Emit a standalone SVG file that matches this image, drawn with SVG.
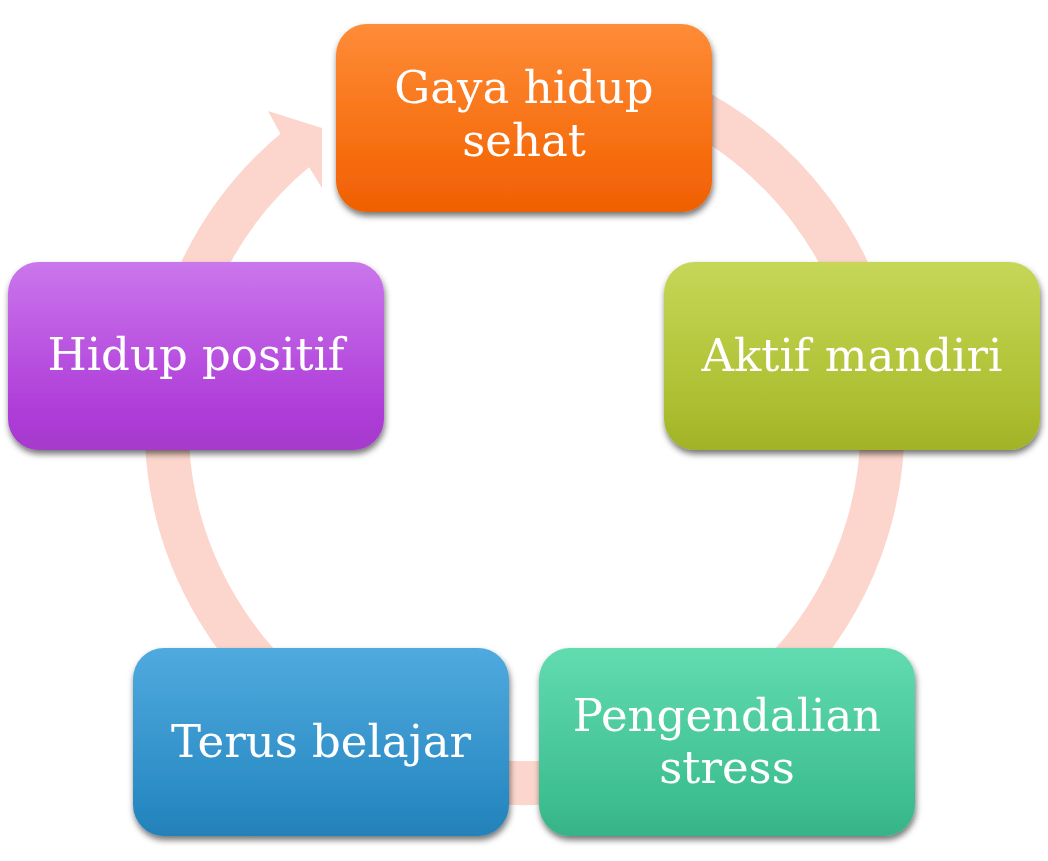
<svg xmlns="http://www.w3.org/2000/svg" width="1048" height="861" viewBox="0 0 1048 861">
<style>
.lbl{font-family:"DejaVu Serif","Liberation Serif",serif;font-size:45px;fill:#ffffff;text-anchor:middle}
.node{filter:url(#sh)}
</style>
<defs>
<filter id="sh" x="-10%" y="-10%" width="125%" height="130%">
<feDropShadow dx="1" dy="4" stdDeviation="3" flood-color="#000" flood-opacity="0.55"/>
</filter>
<linearGradient id="gO" x1="0" y1="0" x2="0" y2="1"><stop offset="0" stop-color="#FE8C38"/><stop offset="0.8" stop-color="#F56808"/><stop offset="1" stop-color="#EE6005"/></linearGradient>
<linearGradient id="gG" x1="0" y1="0" x2="0" y2="1"><stop offset="0" stop-color="#C6D758"/><stop offset="0.8" stop-color="#ABBD2E"/><stop offset="1" stop-color="#A1B227"/></linearGradient>
<linearGradient id="gT" x1="0" y1="0" x2="0" y2="1"><stop offset="0" stop-color="#62DBB0"/><stop offset="0.8" stop-color="#3DBF92"/><stop offset="1" stop-color="#37B387"/></linearGradient>
<linearGradient id="gB" x1="0" y1="0" x2="0" y2="1"><stop offset="0" stop-color="#50AADE"/><stop offset="0.8" stop-color="#2A8BC4"/><stop offset="1" stop-color="#2481B8"/></linearGradient>
<linearGradient id="gP" x1="0" y1="0" x2="0" y2="1"><stop offset="0" stop-color="#CA76EC"/><stop offset="0.8" stop-color="#AE3CD8"/><stop offset="1" stop-color="#A53ACB"/></linearGradient>
</defs>
<rect width="1048" height="861" fill="#ffffff"/>
<g id="connectors">
<path d="M 524 67 A 358 358 0 1 1 298 147.8" fill="none" stroke="#FCD6CC" stroke-width="44"/>
<polygon points="268,111 322,128 322,188 309,167 280,133" fill="#FCD6CC"/>
</g>
<g id="node-gaya" class="node">
<rect x="336" y="24" width="376" height="188" rx="31" fill="url(#gO)"/>
<text class="lbl" x="524" y="103">Gaya hidup</text>
<text class="lbl" x="524" y="156">sehat</text>
</g>
<g id="node-aktif" class="node">
<rect x="664" y="262" width="376" height="188" rx="31" fill="url(#gG)"/>
<text class="lbl" x="852" y="371">Aktif mandiri</text>
</g>
<g id="node-pengendalian" class="node">
<rect x="539" y="648" width="376" height="188" rx="31" fill="url(#gT)"/>
<text class="lbl" x="727" y="731">Pengendalian</text>
<text class="lbl" x="727" y="783">stress</text>
</g>
<g id="node-terus" class="node">
<rect x="133" y="648" width="376" height="188" rx="31" fill="url(#gB)"/>
<text class="lbl" x="321" y="757">Terus belajar</text>
</g>
<g id="node-hidup" class="node">
<rect x="8" y="262" width="376" height="188" rx="31" fill="url(#gP)"/>
<text class="lbl" x="196" y="370">Hidup positif</text>
</g>
</svg>
